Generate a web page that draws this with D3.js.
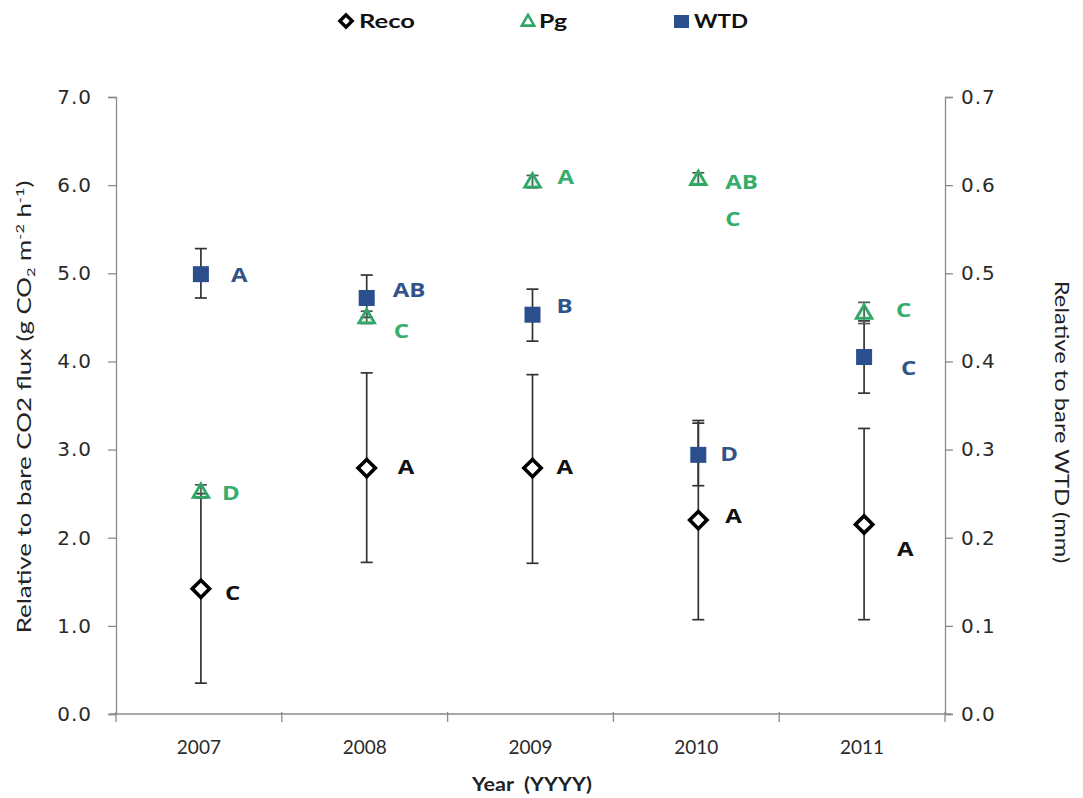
<!DOCTYPE html>
<html><head><meta charset="utf-8">
<script src="https://cdn.jsdelivr.net/npm/d3@7"></script>
<style>body{margin:0;background:#fff}svg{display:block}</style>
</head><body><svg id="c" width="1083" height="798"></svg>
<script>
const years = ["2007","2008","2009","2010","2011"];
const recoMean = [1.42, 2.79, 2.79, 2.20, 2.15];
const recoLow  = [0.35, 1.72, 1.71, 1.07, 1.07];
const recoHigh = [2.50, 3.87, 3.85, 3.33, 3.24];
const pgMean = [2.52, 4.50, 6.04, 6.07, 4.55];
const pgLow  = [2.45, 4.43, 5.97, 6.00, 4.43];
const pgHigh = [2.60, 4.57, 6.11, 6.14, 4.67];
const wtdMean = [0.499, 0.472, 0.453, 0.294, 0.405];
const wtdLow  = [0.472, 0.450, 0.423, 0.259, 0.364];
const wtdHigh = [0.528, 0.498, 0.482, 0.330, 0.446];
const recoLetters = ["C","A","A","A","A"];
const pgLetters = ["D","C","A","AB\nC","C"];
const wtdLetters = ["A","AB","B","D","C"];
const leftTicks = [0,1,2,3,4,5,6,7];
const rightTicks = [0,0.1,0.2,0.3,0.4,0.5,0.6,0.7];

const svg = d3.select("#c");
const L=116, R=945, T=97, B=714;
const x = d3.scaleBand().domain(years).range([L,R]);
const y = d3.scaleLinear().domain([0,7]).range([B,T]);
const y2 = d3.scaleLinear().domain([0,0.7]).range([B,T]);
const axisCol = "#8a8a8a";
const green = "#2fa866", blue = "#2a4f8c", lblBlue = "#30538a", lblGreen="#35ad6c";
const tickFont = "'DejaVu Sans', sans-serif";
const calFont = "Lato, 'Open Sans', sans-serif";

const gl = svg.append("g").attr("transform",`translate(${L},0)`)
  .call(d3.axisLeft(y).tickValues(leftTicks).tickFormat(d3.format(".1f")).tickSize(8).tickPadding(16));
const gr = svg.append("g").attr("transform",`translate(${R},0)`)
  .call(d3.axisRight(y2).tickValues(rightTicks).tickFormat(d3.format(".1f")).tickSize(8).tickPadding(8));
const gx = svg.append("g").attr("transform",`translate(0,${B})`)
  .call(d3.axisBottom(x).tickSize(0).tickPadding(27));
[gl,gr,gx].forEach(g=>{
  g.select(".domain").attr("stroke",axisCol).attr("stroke-width",1.3);
  g.selectAll(".tick line").attr("stroke",axisCol).attr("stroke-width",1.3);
});
[gl,gr].forEach(g=>g.selectAll(".tick text").attr("font-family",tickFont).attr("font-size",20)
  .attr("letter-spacing",1).attr("fill","#2a2a2a"));
gx.selectAll(".tick text").attr("font-family",calFont).attr("font-size",19).attr("fill","#2a2a2a");
gx.select(".domain").attr("d",`M${L-6},0H${R+6}`);
const bounds = years.map(d=>x(d)).concat([R]);
gx.selectAll(".bt").data(bounds).join("line").attr("class","bt")
  .attr("x1",d=>d).attr("x2",d=>d).attr("y1",-2).attr("y2",8)
  .attr("stroke",axisCol).attr("stroke-width",1.3);

svg.append("text").attr("x",532).attr("y",791).attr("text-anchor","middle")
  .attr("font-family",calFont).attr("font-weight","bold").attr("font-size",19).attr("fill","#222")
  .attr("textLength",120).attr("lengthAdjust","spacingAndGlyphs")
  .attr("xml:space","preserve").text("Year  (YYYY)");
const lt = svg.append("text").attr("transform","translate(31,407) rotate(-90) scale(1.36,1)").attr("text-anchor","middle")
  .attr("font-family",calFont).attr("font-size",19).attr("fill","#222");
lt.append("tspan").text("Relative to bare CO2 flux  (g CO");
lt.append("tspan").attr("font-size",12).attr("dy",4).text("2");
lt.append("tspan").attr("dy",-4).text(" m");
lt.append("tspan").attr("font-size",12).attr("dy",-7).text("-2");
lt.append("tspan").attr("dy",7).text(" h");
lt.append("tspan").attr("font-size",12).attr("dy",-7).text("-1");
lt.append("tspan").attr("dy",7).text(")");
svg.append("text").attr("transform","translate(1055,422) rotate(90) scale(1.25,1)").attr("text-anchor","middle")
  .attr("font-family",calFont).attr("font-size",19).attr("fill","#222").text("Relative to bare WTD (mm)");

const cx = i => x(years[i]) + x.bandwidth()/2 + 2;
function errBars(cls, lows, highs, sc, col){
  const g = svg.append("g").attr("class",cls);
  years.forEach((d,i)=>{
    g.append("line").attr("x1",cx(i)).attr("x2",cx(i)).attr("y1",sc(lows[i])).attr("y2",sc(highs[i]))
      .attr("stroke",col).attr("stroke-width",1.7);
    [lows[i],highs[i]].forEach(v=>g.append("line").attr("x1",cx(i)-6).attr("x2",cx(i)+6)
      .attr("y1",sc(v)).attr("y2",sc(v)).attr("stroke",col).attr("stroke-width",1.7));
  });
}
errBars("reco-err", recoLow, recoHigh, y, "#333");
errBars("wtd-err", wtdLow, wtdHigh, y2, "#333");
errBars("pg-err", pgLow, pgHigh, y, "#555");

svg.append("g").selectAll("path").data(recoMean).join("path")
  .attr("d",d3.symbol(d3.symbolSquare,150)())
  .attr("transform",(d,i)=>`translate(${cx(i)},${y(d)}) rotate(45)`)
  .attr("fill","#fff").attr("stroke","#000").attr("stroke-width",3.6);
svg.append("g").selectAll("rect").data(wtdMean).join("rect")
  .attr("x",(d,i)=>cx(i)-8).attr("y",d=>y2(d)-8).attr("width",16).attr("height",16).attr("fill",blue);
svg.append("g").selectAll("path").data(pgMean).join("path")
  .attr("d",d3.symbol(d3.symbolTriangle2,175)())
  .attr("transform",(d,i)=>`translate(${cx(i)},${y(d)+1})`)
  .attr("fill",green).attr("fill-opacity",0.15).attr("stroke",green).attr("stroke-width",2.8);

function letters(arr, vals, sc, col, offs){
  const g = svg.append("g");
  arr.forEach((t,i)=>{
    t.split("\n").forEach((s,k)=>{
      g.append("text").attr("transform",`translate(${cx(i)+offs[i][0]},${sc(vals[i])+offs[i][1]+k*37}) scale(1.2,1)`)
        .attr("font-family","'Open Sans', sans-serif").attr("font-weight","bold").attr("font-size",20)
        .attr("fill",col).text(s);
    });
  });
}
letters(recoLetters, recoMean, y, "#111", [[24,11],[31,6],[24,6],[27,3],[33,32]]);
letters(pgLetters, pgMean, y, lblGreen, [[21,8],[27,21],[25,2],[27,10],[32,4]]);
letters(wtdLetters, wtdMean, y2, lblBlue, [[30,8],[26,-1],[24,-2],[22,6],[37,18]]);

const lg = svg.append("g").attr("font-family",calFont).attr("font-weight","bold").attr("font-size",19).attr("fill","#111");
lg.append("path").attr("d",d3.symbol(d3.symbolSquare,75)()).attr("transform","translate(346,21) rotate(45)")
  .attr("fill","#fff").attr("stroke","#000").attr("stroke-width",3.4);
lg.append("text").attr("x",359).attr("y",28).attr("textLength",56).attr("lengthAdjust","spacingAndGlyphs").text("Reco");
lg.append("path").attr("d",d3.symbol(d3.symbolTriangle2,110)()).attr("transform","translate(528,22)")
  .attr("fill","none").attr("stroke",green).attr("stroke-width",2.6);
lg.append("text").attr("x",539).attr("y",28).attr("textLength",28).attr("lengthAdjust","spacingAndGlyphs").text("Pg");
lg.append("rect").attr("x",674).attr("y",15).attr("width",15).attr("height",13).attr("fill",blue);
lg.append("text").attr("x",694).attr("y",28).attr("textLength",54).attr("lengthAdjust","spacingAndGlyphs").text("WTD");
</script></body></html>
